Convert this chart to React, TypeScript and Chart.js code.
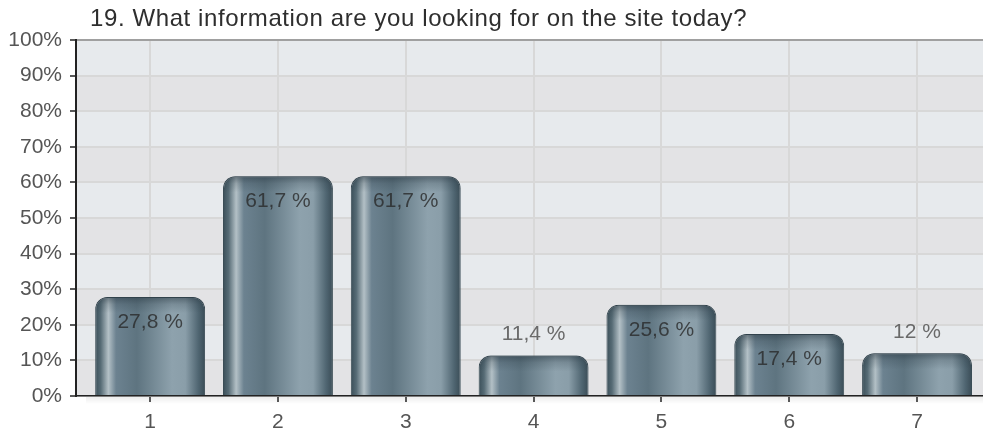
import React, { useEffect, useRef } from "react";
import { Chart, registerables } from "chart.js";

Chart.register(...registerables);

const TITLE = "19. What information are you looking for on the site today?";
const categories = ["1", "2", "3", "4", "5", "6", "7"];
const values = [27.8, 61.7, 61.7, 11.4, 25.6, 17.4, 12];
const valueLabels = ["27,8 %", "61,7 %", "61,7 %", "11,4 %", "25,6 %", "17,4 %", "12 %"];
const yTicks = [0, 10, 20, 30, 40, 50, 60, 70, 80, 90, 100];

const FONT = "'Liberation Sans', Arial, sans-serif";

function barGradient(ctx: CanvasRenderingContext2D, left: number, right: number) {
  const g = ctx.createLinearGradient(left, 0, right, 0);
  g.addColorStop(0, "#3a4e58");
  g.addColorStop(0.05, "#566b75");
  g.addColorStop(0.12, "#b3c0c6");
  g.addColorStop(0.19, "#6c8290");
  g.addColorStop(0.38, "#5e7480");
  g.addColorStop(0.7, "#8ea2ad");
  g.addColorStop(0.82, "#8a9ea9");
  g.addColorStop(0.94, "#4f6571");
  g.addColorStop(1, "#3a4c56");
  return g;
}

const bandsPlugin = {
  id: "bands",
  beforeDraw(chart: any) {
    const { ctx, chartArea, scales } = chart;
    const y = scales.y;
    ctx.save();
    for (let i = 0; i < yTicks.length - 1; i++) {
      const top = y.getPixelForValue(yTicks[i + 1]);
      const bottom = y.getPixelForValue(yTicks[i]);
      ctx.fillStyle = i % 2 === 1 ? "#e7eaed" : "#e3e3e5";
      ctx.fillRect(chartArea.left, top, chartArea.right - chartArea.left, bottom - top);
    }
    // faint shadow under the x axis
    const g = ctx.createLinearGradient(0, chartArea.bottom, 0, chartArea.bottom + 8);
    g.addColorStop(0, "rgba(0,0,0,0.08)");
    g.addColorStop(1, "rgba(0,0,0,0)");
    ctx.fillStyle = g;
    ctx.fillRect(chartArea.left + 10, chartArea.bottom, chartArea.right - chartArea.left - 10, 8);
    ctx.restore();
  },
};

const titlePlugin = {
  id: "customTitle",
  afterDraw(chart: any) {
    const { ctx } = chart;
    ctx.save();
    ctx.font = `24px ${FONT}`;
    try {
      (ctx as any).letterSpacing = "0.6px";
    } catch (e) {}
    ctx.fillStyle = "#2e2e2e";
    ctx.textAlign = "left";
    ctx.textBaseline = "middle";
    ctx.fillText(TITLE, 90, 19);
    ctx.restore();
  },
};

const valueLabelPlugin = {
  id: "valueLabels",
  afterDatasetsDraw(chart: any) {
    const { ctx } = chart;
    const meta = chart.getDatasetMeta(0);
    ctx.save();
    // darker cap at the top of each bar
    meta.data.forEach((bar: any) => {
      const left = bar.x - bar.width / 2;
      const top = bar.y;
      ctx.save();
      ctx.beginPath();
      (ctx as any).roundRect(left, top, bar.width, Math.min(16, bar.base - top), [12, 12, 0, 0]);
      ctx.clip();
      const g = ctx.createLinearGradient(0, top, 0, top + 16);
      g.addColorStop(0, "rgba(40,55,65,0.55)");
      g.addColorStop(0.45, "rgba(40,55,65,0.2)");
      g.addColorStop(1, "rgba(40,55,65,0)");
      ctx.fillStyle = g;
      ctx.fillRect(left, top, bar.width, 16);
      ctx.restore();
    });
    ctx.font = `21px ${FONT}`;
    ctx.textAlign = "center";
    ctx.textBaseline = "middle";
    meta.data.forEach((bar: any, i: number) => {
      const h = bar.base - bar.y;
      if (h > 50) {
        ctx.fillStyle = "rgba(40,40,40,0.78)";
        ctx.fillText(valueLabels[i], bar.x, bar.y + 25);
      } else {
        ctx.fillStyle = "#6a6a6a";
        ctx.fillText(valueLabels[i], bar.x, bar.y - 21);
      }
    });
    ctx.restore();
  },
};

export default function App() {
  const ref = useRef<HTMLCanvasElement | null>(null);
  useEffect(() => {
    if (!ref.current) return;
    const chart = new Chart(ref.current, {
      type: "bar",
      data: {
        datasets: [
          {
            data: values.map((v, i) => ({ x: i + 1, y: v })),
            backgroundColor: (c: any) => {
              const ch = c.chart;
              const xs = ch.scales?.x;
              if (!xs || c.dataIndex === undefined) return "#6f8590";
              const center = xs.getPixelForValue(c.dataIndex + 1);
              const step = xs.getPixelForValue(2) - xs.getPixelForValue(1);
              if (!isFinite(center) || !isFinite(step) || step <= 0) return "#6f8590";
              const w = step * 0.86;
              return barGradient(ch.ctx, center - w / 2, center + w / 2);
            },
            borderColor: "#3b4d56",
            borderWidth: 1,
            borderSkipped: "bottom",
            borderRadius: { topLeft: 12, topRight: 12, bottomLeft: 0, bottomRight: 0 },
            barPercentage: 0.86,
            categoryPercentage: 1,
          },
        ],
      },
      options: {
        animation: false,
        responsive: false,
        maintainAspectRatio: false,
        layout: { padding: { top: 40, right: 0, bottom: 0, left: 0 } },
        plugins: {
          legend: { display: false },
          title: { display: false },
          tooltip: { enabled: false },
        },
        scales: {
          x: {
            type: "linear",
            offset: false,
            min: 0.42,
            max: 7.516,
            afterBuildTicks: (s: any) => {
              s.ticks = categories.map((_, i) => ({ value: i + 1 }));
            },
            afterFit: (s: any) => {
              s.height = 36;
            },
            ticks: {
              callback: (v: any) => categories[Number(v) - 1] ?? "",
              color: "#555555",
              font: { family: FONT, size: 21 },
              padding: 8,
              autoSkip: false,
              maxRotation: 0,
            },
            grid: {
              offset: false,
              color: "#d8d8d8",
              lineWidth: 2,
              tickColor: "#222222",
              tickLength: 6,
              tickWidth: 1.5,
            },
            border: { color: "#222222", width: 1.5 },
          },
          y: {
            min: 0,
            max: 100,
            afterBuildTicks: (s: any) => {
              s.ticks = yTicks.map((v) => ({ value: v }));
            },
            afterFit: (s: any) => {
              s.width = 76;
            },
            ticks: {
              callback: (v: any) => `${v}%`,
              color: "#555555",
              font: { family: FONT, size: 21 },
              padding: 8,
            },
            grid: {
              color: (c: any) => (c.tick && c.tick.value === 100 ? "#a0a0a0" : "#d8d8d8"),
              lineWidth: 2,
              tickColor: "#222222",
              tickLength: 6,
              tickWidth: 1.5,
            },
            border: { color: "#222222", width: 2 },
          },
        },
      },
      plugins: [bandsPlugin, titlePlugin, valueLabelPlugin],
    } as any);
    return () => chart.destroy();
  }, []);
  return (
    <div style={{ position: "fixed", left: 0, top: 0, width: 983, height: 432, background: "#ffffff" }}>
      <canvas ref={ref} width={983} height={432} style={{ width: 983, height: 432 }} />
    </div>
  );
}
